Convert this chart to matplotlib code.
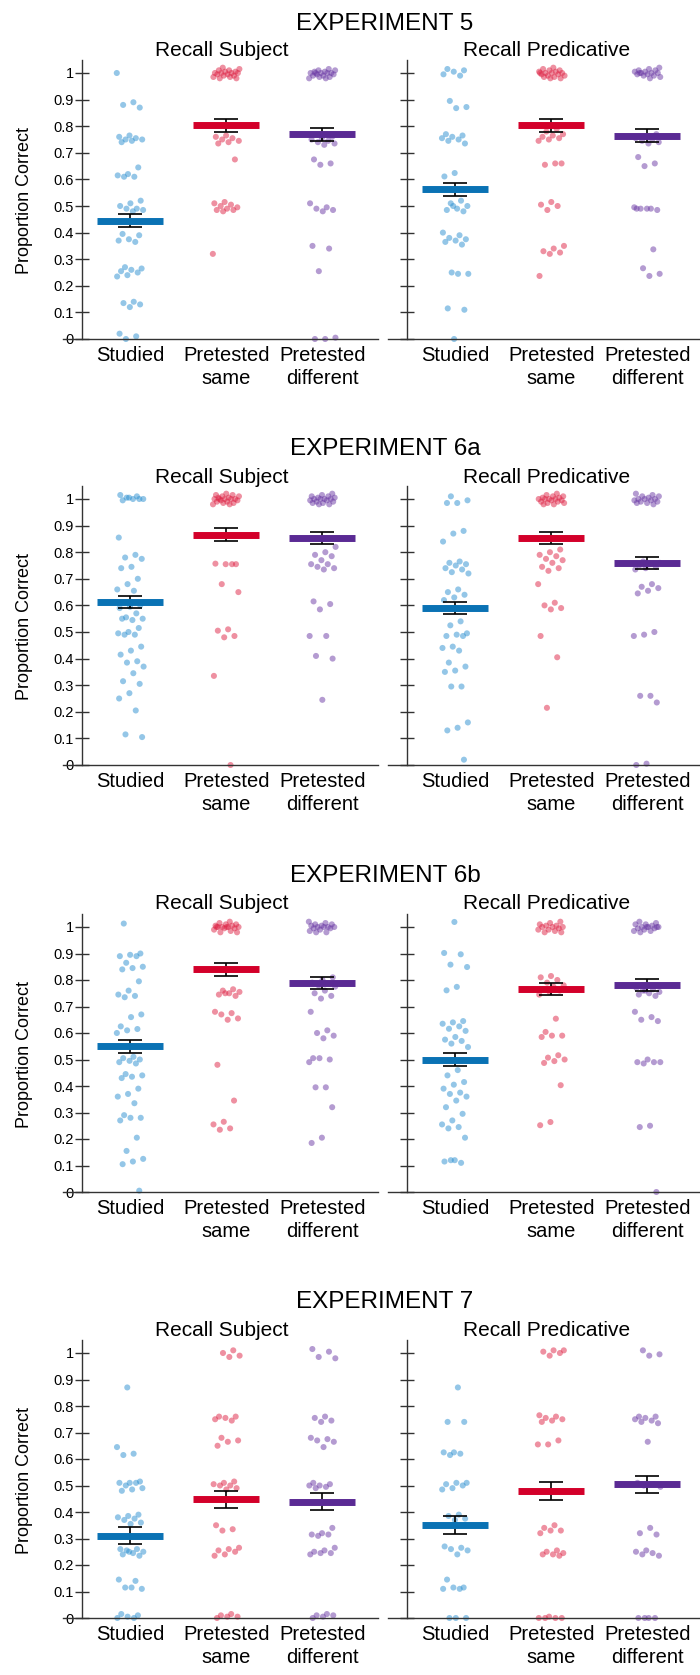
import numpy as np
import matplotlib
matplotlib.use("Agg")
import matplotlib.pyplot as plt

plt.rcParams['font.family'] = ['Liberation Sans', 'DejaVu Sans']

# ---------------- data ----------------
experiments = ["EXPERIMENT 5", "EXPERIMENT 6a", "EXPERIMENT 6b", "EXPERIMENT 7"]
panels = ["Recall Subject", "Recall Predicative"]
categories = ["Studied", "Pretested\nsame", "Pretested\ndifferent"]
ytick_vals = [0, 0.1, 0.2, 0.3, 0.4, 0.5, 0.6, 0.7, 0.8, 0.9, 1]
ytick_labels = ["0", "0.1", "0.2", "0.3", "0.4", "0.5", "0.6", "0.7", "0.8", "0.9", "1"]

# means [experiment][panel][condition]
means = [
    [[0.445, 0.803, 0.770], [0.563, 0.803, 0.765]],
    [[0.612, 0.866, 0.853], [0.590, 0.853, 0.759]],
    [[0.550, 0.840, 0.789], [0.500, 0.765, 0.782]],
    [[0.311, 0.448, 0.438], [0.351, 0.480, 0.504]],
]
ses = [
    [[0.025, 0.025, 0.025], [0.024, 0.025, 0.025]],
    [[0.023, 0.024, 0.023], [0.024, 0.024, 0.023]],
    [[0.024, 0.024, 0.023], [0.024, 0.023, 0.023]],
    [[0.033, 0.032, 0.032], [0.033, 0.034, 0.032]],
]

e5_subj_studied = [1.0, 0.89, 0.88, 0.87, 0.765, 0.76, 0.755, 0.75, 0.75, 0.745, 0.74, 0.645, 0.62, 0.615, 0.61, 0.61,
                   0.52, 0.51, 0.5, 0.49, 0.49, 0.485, 0.48, 0.395, 0.39, 0.375, 0.37, 0.365, 0.27, 0.265, 0.26, 0.255,
                   0.25, 0.24, 0.235, 0.14, 0.135, 0.13, 0.12, 0.02, 0.01, 0.0]
e5_subj_same = [1.02, 1.015, 1.01, 1.01, 1.005, 1.005, 1.0, 1.0, 1.0, 1.0, 0.995, 0.995, 0.99, 0.99, 0.985, 0.985,
                0.98, 0.98, 0.765, 0.76, 0.755, 0.75, 0.745, 0.74, 0.735, 0.675, 0.515, 0.51, 0.505, 0.5, 0.495,
                0.49, 0.485, 0.485, 0.48, 0.32]
e5_subj_diff = [1.015, 1.01, 1.01, 1.005, 1.005, 1.0, 1.0, 1.0, 1.0, 0.995, 0.995, 0.99, 0.99, 0.985, 0.985, 0.98,
                0.98, 1.0, 0.76, 0.755, 0.75, 0.745, 0.74, 0.735, 0.73, 0.675, 0.66, 0.655, 0.51, 0.495, 0.49,
                0.485, 0.48, 0.35, 0.34, 0.255, 0.005, 0.0, 0.0]
e5_pred_studied = [1.015, 1.01, 1.005, 0.995, 0.99, 0.895, 0.872, 0.868, 0.77, 0.765, 0.76, 0.755, 0.75, 0.745,
                   0.735, 0.624, 0.611, 0.52, 0.51, 0.5, 0.49, 0.485, 0.48, 0.5, 0.4, 0.39, 0.38, 0.375, 0.37,
                   0.365, 0.355, 0.25, 0.245, 0.245, 0.115, 0.11, 0.0]
e5_pred_same = [1.02, 1.015, 1.01, 1.01, 1.005, 1.005, 1.0, 1.0, 1.0, 0.995, 0.995, 0.99, 0.99, 0.985, 0.985, 0.98,
                0.98, 1.0, 0.79, 0.78, 0.77, 0.765, 0.76, 0.755, 0.75, 0.745, 0.66, 0.655, 0.66, 0.515, 0.505, 0.5,
                0.485, 0.35, 0.34, 0.33, 0.325, 0.32, 0.237]
e5_pred_diff = [1.02, 1.015, 1.01, 1.01, 1.005, 1.005, 1.0, 1.0, 1.0, 0.995, 0.995, 0.99, 0.99, 0.985, 0.98, 1.0,
                0.77, 0.76, 0.755, 0.75, 0.745, 0.74, 0.735, 0.684, 0.66, 0.65, 0.495, 0.49, 0.49, 0.485, 0.49,
                0.49, 0.337, 0.266, 0.245, 0.237]

e6a_subj_studied = [1.015, 1.01, 1.005, 1.0, 1.0, 0.995, 1.0, 1.005, 0.855, 0.79, 0.78, 0.775, 0.745, 0.74, 0.7,
                    0.68, 0.66, 0.655, 0.61, 0.6, 0.595, 0.59, 0.57, 0.555, 0.55, 0.545, 0.55, 0.515, 0.5, 0.495,
                    0.49, 0.49, 0.445, 0.43, 0.415, 0.39, 0.385, 0.37, 0.345, 0.315, 0.305, 0.27, 0.25, 0.205,
                    0.115, 0.105]
e6a_subj_same = [1.02, 1.015, 1.015, 1.01, 1.01, 1.005, 1.005, 1.0, 1.0, 1.0, 1.0, 0.995, 0.995, 0.99, 0.99, 0.985,
                 0.985, 0.98, 0.98, 1.0, 0.755, 0.755, 0.757, 0.755, 0.68, 0.65, 0.51, 0.505, 0.485, 0.48, 0.335,
                 0.0]
e6a_subj_diff = [1.02, 1.015, 1.01, 1.01, 1.005, 1.005, 1.0, 1.0, 1.0, 1.0, 0.995, 0.995, 0.99, 0.99, 0.985, 0.985,
                 0.98, 0.98, 0.82, 0.8, 0.79, 0.785, 0.77, 0.755, 0.755, 0.745, 0.74, 0.735, 0.615, 0.605, 0.585,
                 0.485, 0.485, 0.41, 0.4, 0.245]
e6a_pred_studied = [1.01, 0.995, 0.985, 0.985, 0.88, 0.87, 0.84, 0.765, 0.76, 0.755, 0.75, 0.74, 0.735, 0.725,
                    0.72, 0.66, 0.65, 0.64, 0.63, 0.62, 0.54, 0.525, 0.495, 0.49, 0.485, 0.485, 0.445, 0.44, 0.43,
                    0.385, 0.37, 0.355, 0.35, 0.295, 0.295, 0.16, 0.14, 0.13, 0.02]
e6a_pred_same = [1.02, 1.015, 1.01, 1.01, 1.005, 1.005, 1.0, 1.0, 1.0, 1.0, 0.995, 0.995, 0.99, 0.99, 0.985, 0.985,
                 0.98, 0.98, 0.81, 0.8, 0.79, 0.785, 0.775, 0.77, 0.76, 0.745, 0.74, 0.73, 0.68, 0.61, 0.6, 0.59,
                 0.585, 0.485, 0.405, 0.215]
e6a_pred_diff = [1.02, 1.015, 1.01, 1.01, 1.005, 1.0, 1.0, 1.0, 0.995, 0.995, 0.99, 0.99, 0.985, 0.985, 0.98,
                 0.765, 0.76, 0.755, 0.75, 0.745, 0.74, 0.735, 0.68, 0.67, 0.665, 0.655, 0.645, 0.5, 0.49, 0.485,
                 0.26, 0.26, 0.235, 0.005, 0.0]

e6b_subj_studied = [1.013, 0.9, 0.895, 0.89, 0.89, 0.865, 0.85, 0.845, 0.84, 0.795, 0.76, 0.745, 0.74, 0.735, 0.67,
                    0.66, 0.625, 0.615, 0.61, 0.6, 0.51, 0.505, 0.5, 0.495, 0.49, 0.485, 0.445, 0.44, 0.435, 0.43,
                    0.39, 0.37, 0.36, 0.335, 0.29, 0.28, 0.28, 0.27, 0.205, 0.155, 0.125, 0.115, 0.105, 0.005]
e6b_subj_same = [1.02, 1.015, 1.01, 1.01, 1.005, 1.005, 1.0, 1.0, 1.0, 1.0, 0.995, 0.995, 0.99, 0.985, 0.98, 0.98,
                 1.0, 1.0, 0.765, 0.76, 0.755, 0.75, 0.745, 0.74, 0.75, 0.68, 0.675, 0.67, 0.655, 0.65, 0.48, 0.345,
                 0.265, 0.255, 0.24, 0.235]
e6b_subj_diff = [1.02, 1.015, 1.01, 1.01, 1.005, 1.005, 1.0, 1.0, 1.0, 1.0, 0.995, 0.995, 0.99, 0.985, 0.98, 0.98,
                 0.81, 0.8, 0.79, 0.785, 0.78, 0.775, 0.76, 0.75, 0.74, 0.73, 0.68, 0.61, 0.6, 0.59, 0.58, 0.505,
                 0.5, 0.505, 0.49, 0.395, 0.395, 0.32, 0.205, 0.185]
e6b_pred_studied = [1.019, 0.902, 0.897, 0.858, 0.849, 0.774, 0.761, 0.645, 0.64, 0.635, 0.625, 0.616, 0.608, 0.585,
                    0.575, 0.57, 0.56, 0.547, 0.46, 0.44, 0.415, 0.405, 0.39, 0.375, 0.37, 0.36, 0.345, 0.32, 0.295,
                    0.27, 0.255, 0.245, 0.24, 0.205, 0.12, 0.115, 0.11, 0.12]
e6b_pred_same = [1.02, 1.015, 1.01, 1.005, 1.005, 1.0, 1.0, 1.0, 0.995, 0.99, 0.99, 0.985, 0.98, 0.98, 0.815, 0.81,
                 0.8, 0.79, 0.78, 0.775, 0.765, 0.76, 0.755, 0.745, 0.654, 0.604, 0.59, 0.59, 0.585, 0.516, 0.507,
                 0.5, 0.494, 0.487, 0.403, 0.264, 0.252]
e6b_pred_diff = [1.02, 1.015, 1.01, 1.01, 1.005, 1.0, 1.0, 1.0, 0.995, 0.995, 0.99, 0.985, 0.985, 0.98, 1.0, 1.0,
                 0.77, 0.765, 0.76, 0.755, 0.75, 0.745, 0.74, 0.76, 0.68, 0.66, 0.65, 0.645, 0.5, 0.49, 0.49, 0.485,
                 0.49, 0.25, 0.245, 0.0]

e7_subj_studied = [0.87, 0.645, 0.62, 0.615, 0.515, 0.51, 0.51, 0.51, 0.5, 0.49, 0.485, 0.48, 0.39, 0.385, 0.38,
                   0.375, 0.37, 0.36, 0.355, 0.26, 0.26, 0.255, 0.25, 0.245, 0.24, 0.235, 0.25, 0.145, 0.14, 0.115,
                   0.11, 0.115, 0.015, 0.01, 0.005, 0.0, 0.0]
e7_subj_same = [1.01, 1.0, 0.99, 0.985, 0.76, 0.76, 0.755, 0.75, 0.745, 0.68, 0.67, 0.665, 0.65, 0.515, 0.51, 0.505,
                0.5, 0.5, 0.49, 0.485, 0.35, 0.335, 0.33, 0.265, 0.26, 0.255, 0.25, 0.24, 0.235, 0.015, 0.01, 0.005,
                0.005, 0.0]
e7_subj_diff = [1.015, 1.005, 0.985, 0.98, 0.76, 0.755, 0.745, 0.74, 0.68, 0.675, 0.67, 0.665, 0.645, 0.51, 0.505,
                0.5, 0.5, 0.495, 0.49, 0.34, 0.32, 0.315, 0.315, 0.31, 0.265, 0.255, 0.25, 0.245, 0.245, 0.24,
                0.015, 0.01, 0.01, 0.005, 0.0]
e7_pred_studied = [0.87, 0.74, 0.74, 0.625, 0.625, 0.62, 0.615, 0.51, 0.51, 0.505, 0.5, 0.49, 0.485, 0.39, 0.385,
                   0.375, 0.37, 0.27, 0.265, 0.26, 0.255, 0.24, 0.145, 0.115, 0.115, 0.11, 0.11, 0.0, 0.0, 0.0]
e7_pred_same = [1.01, 1.01, 1.005, 1.0, 0.99, 0.765, 0.76, 0.755, 0.75, 0.745, 0.74, 0.67, 0.655, 0.655, 0.35,
                0.34, 0.33, 0.33, 0.32, 0.255, 0.25, 0.245, 0.24, 0.24, 0.235, 0.005, 0.0, 0.0, 0.0, 0.0]
e7_pred_diff = [1.01, 0.995, 0.99, 0.76, 0.76, 0.755, 0.75, 0.745, 0.74, 0.735, 0.665, 0.51, 0.505, 0.5, 0.495,
                0.34, 0.32, 0.315, 0.255, 0.25, 0.245, 0.24, 0.235, 0.0, 0.0, 0.0, 0.0]

points = [
    [[e5_subj_studied, e5_subj_same, e5_subj_diff], [e5_pred_studied, e5_pred_same, e5_pred_diff]],
    [[e6a_subj_studied, e6a_subj_same, e6a_subj_diff], [e6a_pred_studied, e6a_pred_same, e6a_pred_diff]],
    [[e6b_subj_studied, e6b_subj_same, e6b_subj_diff], [e6b_pred_studied, e6b_pred_same, e6b_pred_diff]],
    [[e7_subj_studied, e7_subj_same, e7_subj_diff], [e7_pred_studied, e7_pred_same, e7_pred_diff]],
]

# ---------------- style ----------------
bar_colors = ["#0a72b4", "#d3002a", "#5a2a94"]
dot_colors = ["#2a8fd0", "#de2244", "#6a38a4"]

W, H = 700, 1675
fig = plt.figure(figsize=(W / 100, H / 100), dpi=100)

row_y0 = [339, 765, 1192, 1618]       # pixel row of y=0
row_unit = [266, 266, 265, 265]       # pixels per 1.0
title_base = [30, 455, 882, 1308]
sub_base = [56, 483, 909, 1336]
col_left = [63, 388]
col_width = [315, 312]
col_xlim = [(0.3, 3.58), (0.3, 3.55)]
sub_x = [222, 547]

for r in range(4):
    y0 = row_y0[r]
    u = row_unit[r]
    fig.text(385 / W, 1 - title_base[r] / H, experiments[r], ha='center', va='baseline', fontsize=17.5)
    for c in range(2):
        ax = fig.add_axes([col_left[c] / W, 1 - y0 / H, col_width[c] / W, 1.05 * u / H])
        ax.set_xlim(*col_xlim[c])
        ax.set_ylim(0, 1.05)
        for s in ['top', 'right']:
            ax.spines[s].set_visible(False)
        ax.spines['left'].set_position(('data', 0.5))
        for s in ['left', 'bottom']:
            ax.spines[s].set_linewidth(1.0)
            ax.spines[s].set_color('#333333')
        ax.set_yticks(ytick_vals)
        if c == 0:
            ax.set_yticklabels(ytick_labels, fontsize=10.5)
        else:
            ax.set_yticklabels([])
        ax.tick_params(axis='y', direction='inout', length=10, width=1.0, color='#333333', pad=1)
        ax.set_xticks([1, 2, 3])
        ax.set_xticklabels(categories, fontsize=14.5, linespacing=1.25)
        ax.tick_params(axis='x', length=0, pad=5)
        for k in range(3):
            vals = np.array(points[r][c][k])
            n = len(vals)
            jit = ((np.arange(n) * 0.6180339887 + 0.37 * k + 0.21 * c + 0.13 * r) % 1.0 - 0.5) * 0.28
            ax.scatter(k + 1 + jit, vals, s=19, color=dot_colors[k], alpha=0.5,
                       edgecolors='none', zorder=2, clip_on=False)
            m = means[r][c][k]
            se = ses[r][c][k]
            ax.errorbar([k + 1], [m], yerr=[se], fmt='none', ecolor='black', elinewidth=1.2,
                        capsize=8.5, capthick=1.2, zorder=3)
            ax.plot([k + 1 - 0.345, k + 1 + 0.345], [m, m], color=bar_colors[k], lw=5,
                    solid_capstyle='butt', zorder=4)
        fig.text(sub_x[c] / W, 1 - sub_base[r] / H, panels[c], ha='center', va='baseline', fontsize=15)
    fig.text(25 / W, 1 - (y0 - 0.52 * u) / H, "Proportion Correct", rotation=90,
             ha='center', va='center', fontsize=13)

fig.savefig("out.png", dpi=100)
